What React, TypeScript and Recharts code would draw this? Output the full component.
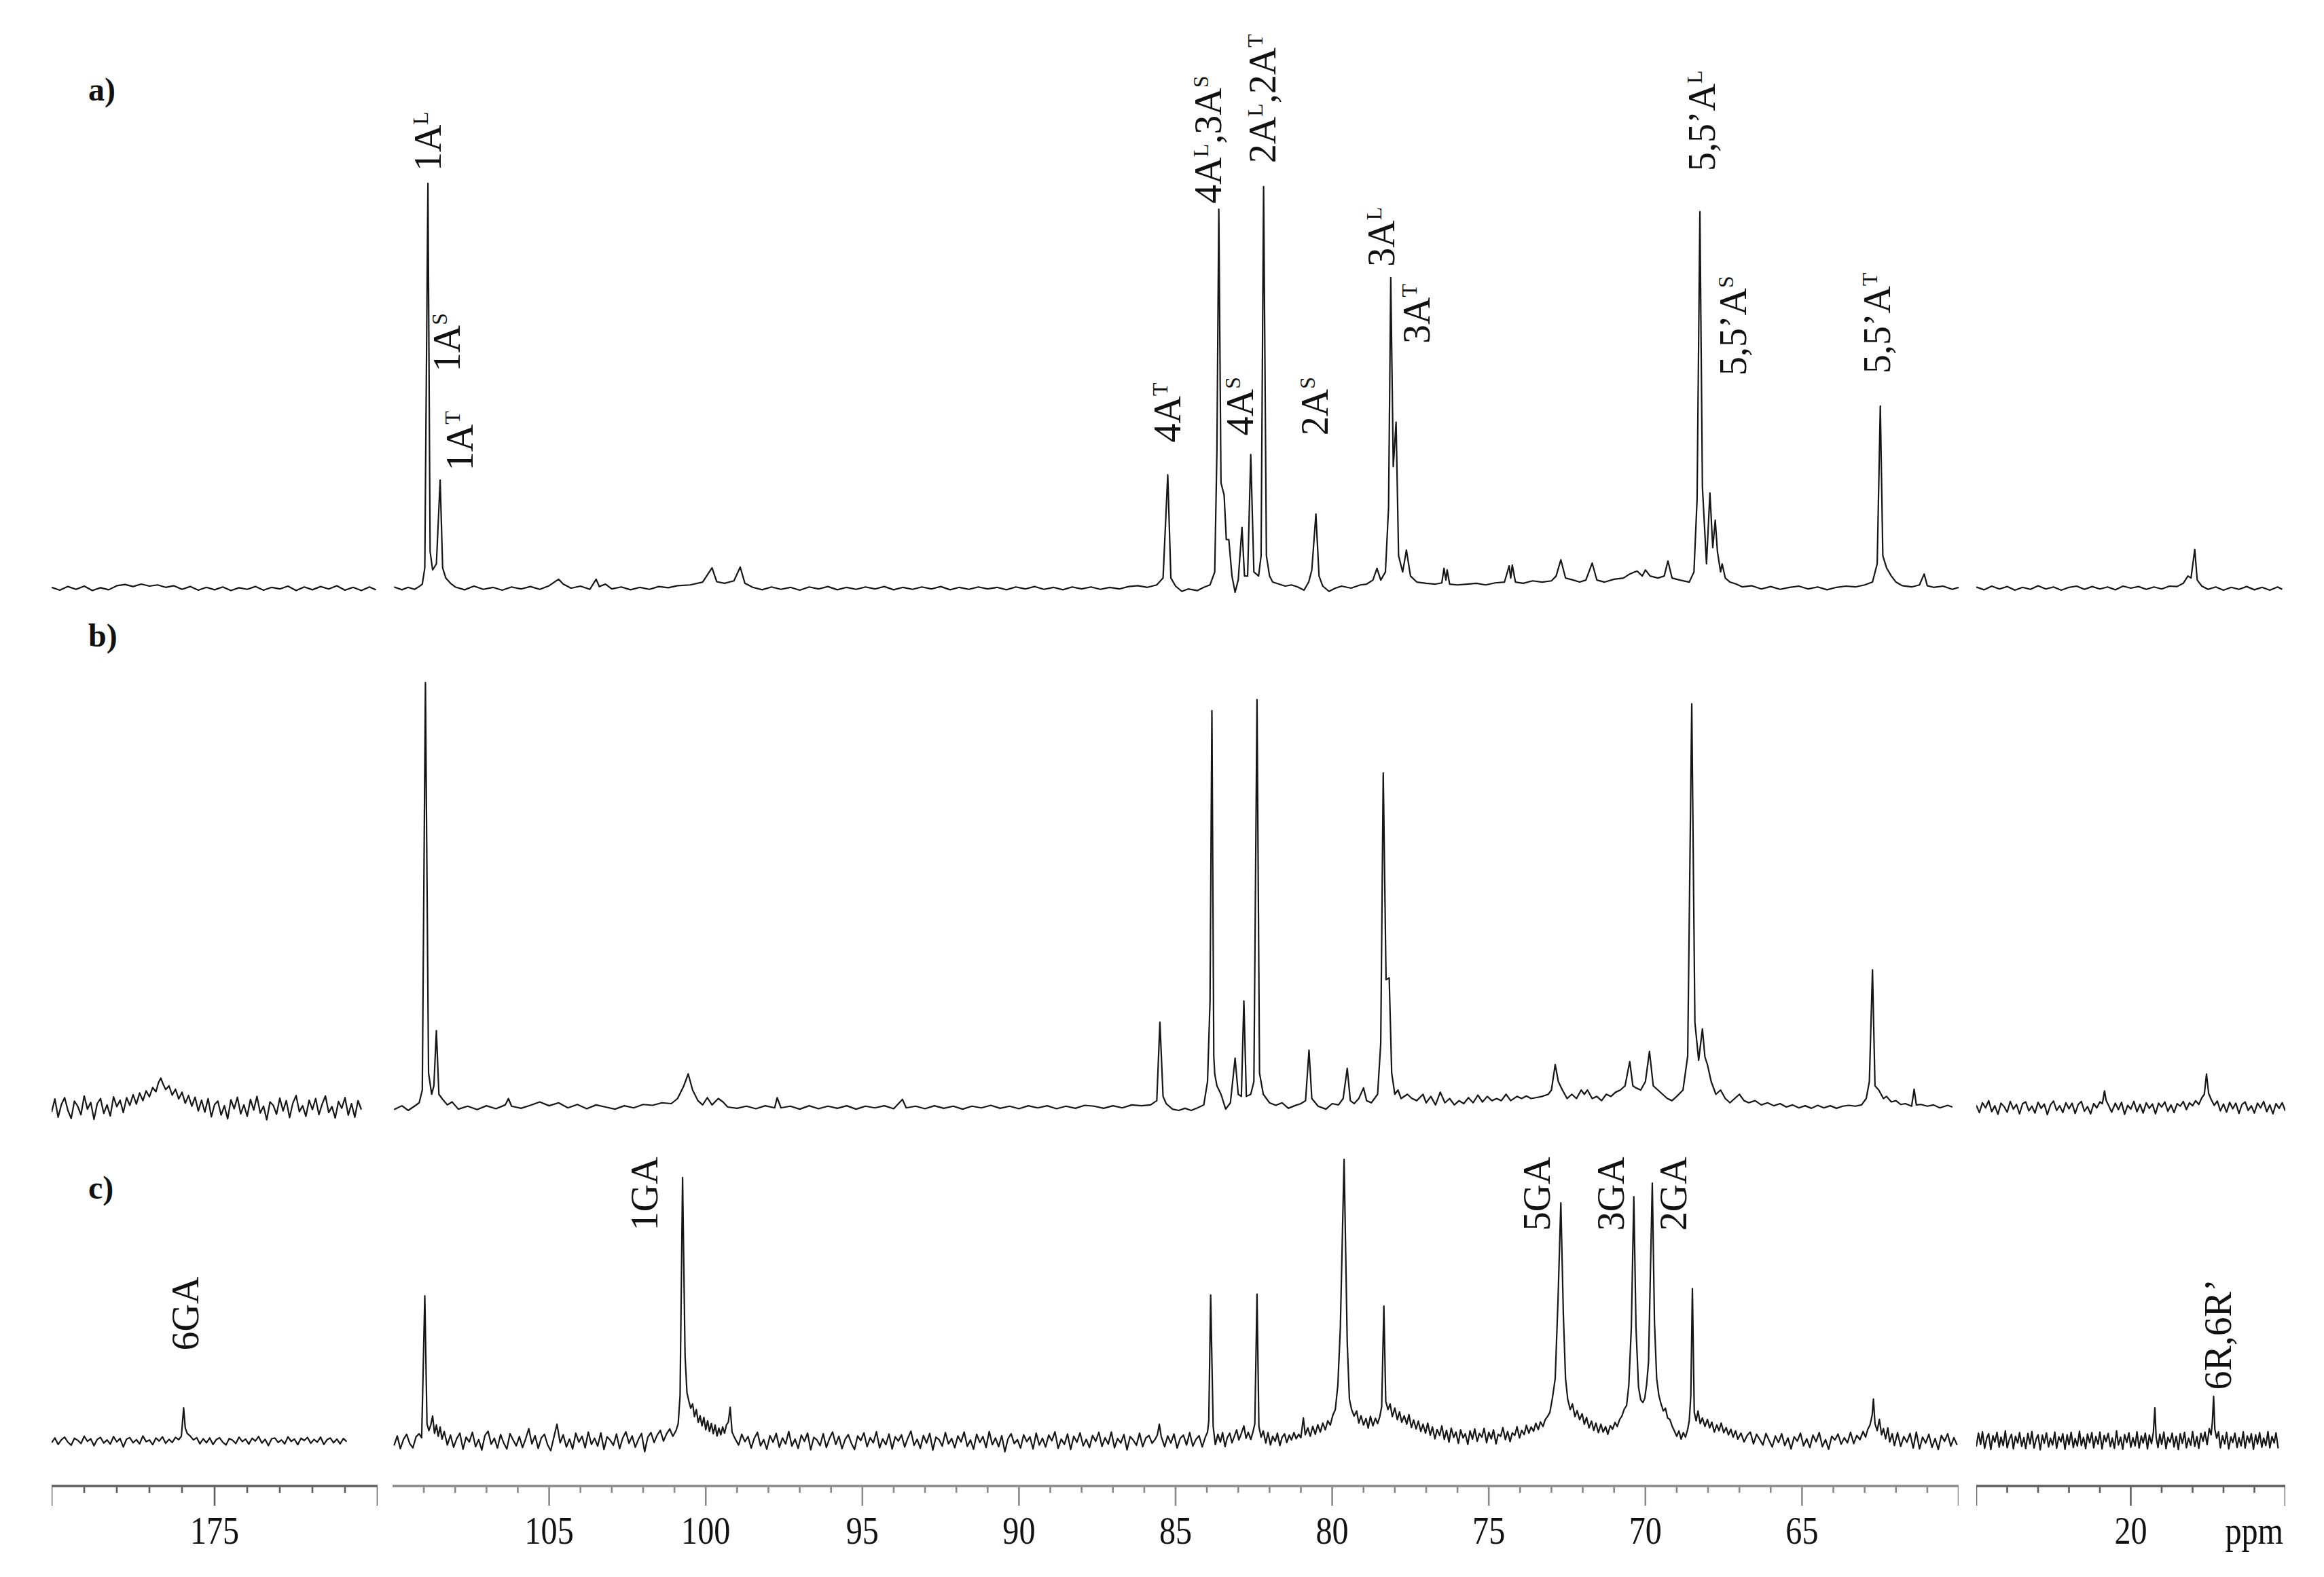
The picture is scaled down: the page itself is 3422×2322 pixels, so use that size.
import React from "react";
import { ComposedChart, Line, Scatter, XAxis, YAxis } from "recharts";

type Pt = [number, number];

// ---- spectra: [ppm, relative intensity], one list per trace and axis segment ----

const aLeft: Pt[] = [[180,0.2],[179.75,-0.5],[179.5,0.4],[179.25,-0.3],[179,0.5],[178.75,-0.6],[178.5,0.1],[178.25,-0.4],[178,0.6],[177.75,0.9],[177.5,0.4],[177.25,1.0],[177,0.5],[176.75,0.8],[176.5,0.2],[176.25,0.6],[176,-0.3],[175.75,0.4],[175.5,-0.5],[175.25,0.2],[175,-0.4],[174.75,0.3],[174.5,-0.6],[174.25,0.1],[174,-0.3],[173.75,0.4],[173.5,-0.5],[173.25,0.2],[173,-0.2],[172.75,0.5],[172.5,-0.6],[172.25,0.3],[172,-0.4],[171.75,0.4],[171.5,-0.2],[171.25,0.6],[171,-0.5],[170.75,0.2],[170.5,-0.6],[170.25,0.3],[170.05,-0.4]];

const aMid: Pt[] = [[109.95,0.3],[109.7,-0.4],[109.5,0.2],[109.3,-0.3],[109.15,0.4],[109.05,1],[108.97,5],[108.87,100],[108.8,9],[108.72,4.5],[108.6,6],[108.48,26.7],[108.4,5],[108.3,2.5],[108.15,1.2],[108.0,0.3],[107.7,-0.4],[107.4,0.5],[107.1,-0.3],[106.8,0.2],[106.5,-0.5],[106.2,0.3],[105.9,-0.2],[105.6,0.4],[105.3,-0.3],[105.0,0.6],[104.85,1.4],[104.7,2.2],[104.55,1.0],[104.3,0],[104.0,0.5],[103.7,-0.3],[103.5,2.2],[103.4,0.4],[103.2,1.0],[103.0,-0.2],[102.7,0.3],[102.4,-0.4],[102.1,0.2],[101.8,-0.3],[101.5,0.4],[101.2,0.1],[100.9,0.6],[100.5,0.8],[100.1,1.5],[99.8,5],[99.65,1.6],[99.4,1.2],[99.1,1.8],[98.9,5.2],[98.75,1.2],[98.5,0.2],[98.2,-0.4],[97.9,0.3],[97.6,-0.3],[97.3,0.2],[97.0,-0.5],[96.7,0.3],[96.4,-0.2],[96.1,0.4],[95.8,-0.4],[95.5,0.2],[95.2,-0.3],[94.9,0.3],[94.6,-0.2],[94.3,0.4],[94.0,-0.4],[93.7,0.2],[93.4,-0.3],[93.1,0.3],[92.8,-0.2],[92.5,0.4],[92.2,-0.4],[91.9,0.2],[91.6,-0.3],[91.3,0.3],[91.0,-0.2],[90.7,0.2],[90.4,-0.4],[90.1,0.3],[89.8,-0.2],[89.5,0.4],[89.2,-0.3],[88.9,0.2],[88.6,-0.4],[88.3,0.3],[88.0,-0.2],[87.7,0.3],[87.4,-0.3],[87.1,0.2],[86.8,-0.2],[86.5,0.4],[86.2,0.6],[85.9,0.2],[85.6,0.8],[85.4,2.5],[85.25,28],[85.15,2.5],[85.0,0.5],[84.8,-0.8],[84.6,-0.2],[84.3,-0.6],[84.1,0.2],[83.9,0.8],[83.75,4],[83.68,34],[83.62,93.6],[83.55,26],[83.45,23],[83.38,12],[83.3,12],[83.2,3],[83.1,-1],[83.0,2],[82.88,15],[82.8,3],[82.7,3],[82.6,33],[82.5,4],[82.35,3],[82.27,8],[82.19,99.2],[82.1,8],[82.0,3],[81.9,1.5],[81.7,1],[81.5,0.5],[81.3,0.8],[81.1,0.3],[80.9,-0.5],[80.75,1.5],[80.65,4.5],[80.52,18.3],[80.42,3],[80.3,0.5],[80.1,-0.8],[79.9,0],[79.7,0.5],[79.4,0],[79.1,0.8],[78.9,1],[78.7,2],[78.57,4.9],[78.45,2],[78.3,4],[78.2,20],[78.13,76.7],[78.05,30],[77.96,41],[77.88,8],[77.75,4],[77.63,9.4],[77.5,3],[77.3,1.5],[77.0,1.2],[76.7,1],[76.5,1.3],[76.43,4.9],[76.37,2],[76.33,4.5],[76.25,1],[76.0,0.8],[75.7,1],[75.4,1.2],[75.1,0.8],[74.8,1.3],[74.5,1.5],[74.35,5.5],[74.3,2.5],[74.25,5.7],[74.15,1.5],[73.9,1.2],[73.6,1.8],[73.3,1.5],[73.0,1.8],[72.85,3],[72.7,7],[72.55,2.5],[72.3,2],[72.1,1.5],[71.9,2],[71.7,6.2],[71.55,2],[71.3,1.5],[71.0,2.2],[70.7,2.5],[70.5,3.5],[70.35,4],[70.26,4.2],[70.1,3],[70.0,4.5],[69.85,3],[69.6,2.5],[69.4,3],[69.28,6.7],[69.15,2.5],[68.9,2],[68.6,1.5],[68.45,4],[68.35,22],[68.26,93],[68.18,25],[68.05,6],[67.94,23.5],[67.85,10],[67.77,16.8],[67.7,9],[67.6,4],[67.55,6],[67.45,2.5],[67.3,1.5],[67.1,1],[66.9,0.3],[66.6,0.6],[66.3,-0.2],[66.0,0.4],[65.7,-0.3],[65.4,0.2],[65.1,0.5],[64.8,-0.2],[64.5,0.3],[64.2,-0.4],[63.9,0.2],[63.6,0.5],[63.3,0.3],[63.0,0.8],[62.75,1.5],[62.6,6],[62.5,45],[62.42,8],[62.3,5],[62.15,3],[62.0,1.5],[61.8,0.6],[61.5,0.3],[61.25,0.8],[61.1,3.5],[61.0,0.6],[60.8,0.2],[60.5,0.5],[60.2,-0.3],[60.0,0.2]];

const aRight: Pt[] = [[25,0.3],[24.75,-0.4],[24.5,0.5],[24.25,-0.2],[24,0.4],[23.75,-0.5],[23.5,0.2],[23.25,-0.3],[23,0.6],[22.75,-0.2],[22.5,0.3],[22.25,-0.5],[22,0.2],[21.75,0.5],[21.5,-0.3],[21.25,0.4],[21,-0.2],[20.75,0.3],[20.5,-0.4],[20.25,0.5],[20,0],[19.75,0.4],[19.5,-0.3],[19.25,0.3],[19,-0.2],[18.75,0.5],[18.5,0.4],[18.3,1.2],[18.15,3],[18.05,2.5],[17.93,9.6],[17.85,2],[17.7,0.5],[17.5,-0.3],[17.25,0.3],[17,-0.5],[16.75,0.2],[16.5,-0.3],[16.25,0.4],[16,-0.4],[15.75,0.2],[15.5,-0.5],[15.25,0.3],[15.1,-0.3]];

const bLeft: Pt[] = [[180,-1.2],[179.9,1.9],[179.8,-2.4],[179.7,0.6],[179.6,2.2],[179.5,-0.8],[179.4,-2.7],[179.3,1.4],[179.2,0.2],[179.1,-1.8],[179.0,2.6],[178.9,-0.5],[178.8,1.1],[178.7,-2.9],[178.6,0.8],[178.5,2.0],[178.4,-1.5],[178.3,0.5],[178.2,-2.1],[178.1,2.4],[178.0,0.1],[177.9,1.6],[177.8,-1.3],[177.7,2.2],[177.6,0.4],[177.5,2.9],[177.4,0.7],[177.3,3.3],[177.2,1.5],[177.1,3.8],[177.0,2.4],[176.9,4.6],[176.8,3.6],[176.72,5.8],[176.65,6.8],[176.58,5.4],[176.5,4.1],[176.4,5.0],[176.3,2.8],[176.2,4.2],[176.1,1.9],[176.0,3.5],[175.9,0.9],[175.8,2.7],[175.7,0.2],[175.6,2.3],[175.5,-0.9],[175.4,1.6],[175.3,-1.2],[175.2,2.0],[175.1,-2.3],[175.0,0.6],[174.9,1.4],[174.8,-1.9],[174.7,0.3],[174.6,-2.8],[174.5,1.7],[174.4,-0.4],[174.3,2.3],[174.2,-1.6],[174.1,0.5],[174.0,-2.2],[173.9,1.8],[173.8,-0.7],[173.7,2.5],[173.6,-1.4],[173.5,0.2],[173.4,-3.0],[173.3,1.2],[173.2,0.4],[173.1,-1.7],[173.0,2.1],[172.9,-0.9],[172.8,1.5],[172.7,-2.5],[172.6,0.9],[172.5,2.7],[172.4,-1.1],[172.3,0.3],[172.2,-2.2],[172.1,1.6],[172.0,-0.6],[171.9,2.0],[171.8,-1.8],[171.7,0.7],[171.6,2.6],[171.5,-1.3],[171.4,0.1],[171.3,-2.6],[171.2,1.3],[171.1,-0.3],[171.0,2.2],[170.9,-1.9],[170.8,0.8],[170.7,-2.4],[170.6,1.5],[170.5,-0.6]];

const bMid: Pt[] = [[109.95,-0.6],[109.7,0.3],[109.5,-0.8],[109.3,0.2],[109.15,1],[109.05,4],[108.95,100],[108.85,8],[108.75,3],[108.68,5],[108.6,18],[108.52,3],[108.4,1.8],[108.25,0.5],[108.1,1.2],[107.9,-0.5],[107.6,0.2],[107.3,-0.6],[107,0.3],[106.7,-0.4],[106.4,0.5],[106.3,2],[106.2,0.2],[105.9,-0.3],[105.6,0.4],[105.3,1.2],[105.0,0.3],[104.7,1.0],[104.4,-0.2],[104.1,0.6],[103.8,-0.4],[103.5,0.5],[103.2,0],[102.9,-0.5],[102.6,0.3],[102.3,-0.2],[102,0.6],[101.7,0.4],[101.4,1.0],[101.1,0.8],[100.9,2],[100.7,5],[100.56,7.8],[100.42,4],[100.25,1.5],[100.1,0.5],[99.95,2.2],[99.8,0.5],[99.6,2],[99.45,1.2],[99.3,0],[99.0,-0.3],[98.7,0.2],[98.4,-0.4],[98.1,0.3],[97.8,-0.2],[97.72,2.2],[97.6,-0.2],[97.3,0.2],[97.0,-0.5],[96.7,0.3],[96.4,-0.4],[96.1,0.2],[95.8,-0.3],[95.5,0.3],[95.2,-0.5],[94.9,0.2],[94.6,-0.2],[94.3,0.3],[94.0,-0.4],[93.72,1.8],[93.6,-0.2],[93.3,0.2],[93.0,-0.4],[92.7,0.3],[92.4,-0.3],[92.1,0.2],[91.8,-0.5],[91.5,0.2],[91.2,-0.2],[90.9,0.4],[90.6,-0.3],[90.3,0.2],[90.0,-0.4],[89.7,0.3],[89.4,-0.2],[89.1,0.3],[88.8,-0.4],[88.5,0.2],[88.2,-0.3],[87.9,0.4],[87.6,0.2],[87.3,-0.3],[87.0,0.3],[86.7,-0.2],[86.4,0.5],[86.1,0.3],[85.8,0.5],[85.6,1.5],[85.5,20],[85.4,2.5],[85.3,0.8],[85.1,-0.5],[84.9,-0.8],[84.7,-0.3],[84.5,-0.8],[84.3,-0.2],[84.1,0.5],[83.98,6],[83.9,25],[83.84,93.4],[83.78,12],[83.75,7.8],[83.68,5],[83.55,3],[83.4,-0.5],[83.25,1],[83.1,11.5],[83.0,3],[82.9,2.5],[82.82,25],[82.74,2.5],[82.6,3],[82.5,6],[82.4,96],[82.32,8],[82.2,3],[82.0,1],[81.8,0.4],[81.6,1],[81.4,-0.3],[81.2,0.3],[81.0,0.8],[80.85,1.5],[80.74,13.4],[80.65,2],[80.45,0.2],[80.2,-0.5],[80.0,0.8],[79.8,0.5],[79.65,2],[79.52,9.1],[79.42,1.5],[79.3,0.8],[79.15,2],[79.0,4.5],[78.9,1.5],[78.75,1],[78.55,3],[78.45,15],[78.37,78.7],[78.28,30],[78.18,30.4],[78.1,8],[78.0,3],[77.9,4],[77.8,2],[77.6,3],[77.45,2],[77.3,1.5],[77.1,3],[77.0,1],[76.85,2.5],[76.7,0.5],[76.55,3.5],[76.4,1],[76.25,2],[76.1,0.5],[75.95,1.5],[75.8,0.8],[75.65,2.2],[75.5,1],[75.35,2.8],[75.2,1.2],[75.05,2.5],[74.9,1.5],[74.75,2],[74.6,1.5],[74.45,3],[74.3,1.5],[74.1,2.5],[73.95,2],[73.8,2.6],[73.65,2],[73.5,2.2],[73.3,2.5],[73.1,3],[73.0,4],[72.88,10],[72.78,6],[72.65,4],[72.5,2],[72.35,3],[72.2,2],[72.05,4],[71.95,3],[71.85,4],[71.7,2],[71.55,2.5],[71.4,1.5],[71.25,3],[71.1,2.5],[70.95,3.5],[70.8,4],[70.65,5],[70.5,10.7],[70.4,5],[70.3,4.5],[70.15,4],[70.0,6],[69.87,13.1],[69.75,5],[69.6,4],[69.45,3],[69.3,2],[69.15,1.5],[69.0,2.5],[68.8,4],[68.65,12],[68.52,95],[68.42,20],[68.3,11],[68.18,18.4],[68.1,11.8],[68.02,10],[67.9,6],[67.75,3],[67.6,4],[67.45,2],[67.3,1],[67.15,2],[67.0,3],[66.85,1.5],[66.7,1],[66.5,1.5],[66.3,0.5],[66.1,1],[65.9,0.3],[65.7,0.8],[65.5,0],[65.3,0.5],[65.1,-0.2],[64.9,0.3],[64.7,-0.3],[64.5,0.4],[64.3,-0.2],[64.1,0.3],[63.9,-0.3],[63.7,0.2],[63.5,0.4],[63.3,0.2],[63.1,0.5],[62.95,2],[62.85,6],[62.75,32.3],[62.67,5],[62.55,4],[62.4,2],[62.3,2.5],[62.15,1.2],[62.0,1.5],[61.85,0.6],[61.7,0.8],[61.5,0.2],[61.42,4.2],[61.35,0.5],[61.2,0.6],[61.0,0.2],[60.8,0.5],[60.6,-0.2],[60.35,0.4],[60.2,0]];

const bRight: Pt[] = [[25,0.4],[24.9,-1.3],[24.8,1.0],[24.7,-0.2],[24.6,1.5],[24.5,-1.1],[24.4,0.3],[24.3,-1.7],[24.2,0.9],[24.1,0.1],[24.0,-1.2],[23.9,1.3],[23.8,-0.5],[23.7,0.6],[23.6,-1.6],[23.5,0.8],[23.4,1.2],[23.3,-0.9],[23.2,0.2],[23.1,-1.4],[23.0,1.1],[22.9,-0.3],[22.8,0.7],[22.7,-1.8],[22.6,0.5],[22.5,1.4],[22.4,-0.8],[22.3,0.3],[22.2,-1.3],[22.1,1.0],[22.0,-0.4],[21.9,0.9],[21.8,-1.5],[21.7,0.6],[21.6,1.3],[21.5,-1.0],[21.4,0.1],[21.3,-1.6],[21.2,0.8],[21.1,-0.2],[21.0,1.2],[20.92,0.8],[20.85,3.8],[20.8,1.6],[20.72,0.4],[20.62,-1.2],[20.5,0.9],[20.4,-0.6],[20.3,1.1],[20.2,-1.7],[20.1,0.4],[20.0,-0.5],[19.9,1.3],[19.8,-1.1],[19.7,0.6],[19.6,-1.4],[19.5,1.0],[19.4,-0.3],[19.3,0.7],[19.2,-1.6],[19.1,0.9],[19.0,0.0],[18.9,1.2],[18.8,-1.0],[18.7,0.5],[18.6,-1.3],[18.5,0.8],[18.4,0.2],[18.3,1.3],[18.2,-0.6],[18.1,1.0],[18.0,0.3],[17.9,1.5],[17.8,0.6],[17.7,2.2],[17.62,3.0],[17.55,7.8],[17.48,3.2],[17.4,1.8],[17.3,0.4],[17.2,1.4],[17.1,-0.9],[17.0,0.7],[16.9,-1.2],[16.8,1.1],[16.7,-0.4],[16.6,0.9],[16.5,-1.5],[16.4,0.6],[16.3,1.2],[16.2,-0.8],[16.1,0.3],[16.0,-1.4],[15.9,0.9],[15.8,-0.2],[15.7,1.3],[15.6,-1.1],[15.5,0.5],[15.4,-1.6],[15.3,0.8],[15.2,-0.3],[15.1,1.0],[15.0,-0.9]];

const cLeft: Pt[] = [[180,-0.8],[179.9,0.9],[179.8,-1.4],[179.7,0.3],[179.6,1.2],[179.5,-0.6],[179.4,-1.7],[179.3,0.8],[179.2,0.1],[179.1,-1.1],[179.0,1.5],[178.9,-0.3],[178.8,0.6],[178.7,-1.9],[178.6,0.4],[178.5,1.1],[178.4,-0.9],[178.3,0.2],[178.2,-1.3],[178.1,1.4],[178.0,-0.5],[177.9,0.7],[177.8,-2.3],[177.7,0.5],[177.6,1.0],[177.5,-0.8],[177.4,0.3],[177.3,-1.2],[177.2,1.6],[177.1,-0.4],[177.0,0.2],[176.9,-1.5],[176.8,0.9],[176.7,-0.2],[176.6,1.3],[176.5,-1.0],[176.4,0.4],[176.3,-0.7],[176.2,1.1],[176.1,0.3],[176.02,1.5],[175.95,11.6],[175.9,4.5],[175.84,2.5],[175.75,1.6],[175.65,0.2],[175.55,1.0],[175.45,-1.2],[175.35,0.6],[175.25,-0.8],[175.15,0.9],[175.05,-1.4],[174.95,0.3],[174.85,1.0],[174.75,-0.6],[174.65,-1.6],[174.55,0.7],[174.45,0.1],[174.35,-1.1],[174.25,1.2],[174.15,-0.4],[174.05,0.5],[173.95,-1.3],[173.85,0.8],[173.75,-0.2],[173.65,1.4],[173.55,-0.9],[173.45,0.4],[173.35,-1.8],[173.25,0.6],[173.15,0.9],[173.05,-0.7],[172.95,0.2],[172.85,-1.2],[172.75,1.3],[172.65,-0.3],[172.55,0.5],[172.45,-1.5],[172.35,0.8],[172.25,0.0],[172.15,1.1],[172.05,-1.0],[171.95,0.4],[171.85,-0.6],[171.75,1.2],[171.65,-1.4],[171.55,0.3],[171.45,0.9],[171.35,-0.8],[171.25,0.5],[171.15,-1.2],[171.05,0.7],[170.95,-0.4]];

const cMid: Pt[] = [[109.95,-1.8],[109.85,1.6],[109.75,-2.9],[109.65,0.4],[109.55,2.2],[109.45,-1.1],[109.35,-2.6],[109.25,1.3],[109.15,2.4],[109.07,1.0],[108.97,51.4],[108.9,6],[108.84,3.5],[108.78,5.5],[108.72,8.7],[108.66,2.5],[108.6,5.5],[108.54,1.5],[108.48,4.8],[108.42,0.5],
[108.35,3.2],[108.25,-1.6],[108.15,1.9],[108.05,-2.4],[107.95,0.7],[107.85,2.6],[107.75,-3.1],[107.65,1.2],[107.55,-0.5],[107.45,2.9],[107.35,-2.2],[107.25,0.3],[107.15,-3.4],[107.05,1.8],[106.95,3.3],[106.85,-1.3],[106.75,0.8],[106.65,-2.7],[106.55,2.1],[106.45,-0.9],[106.35,-3.0],[106.25,2.4],[106.15,0.2],[106.05,-1.9],[105.95,1.4],[105.85,-2.5],[105.75,0.6],[105.65,4.2],[105.55,-1.2],[105.45,1.7],[105.35,-2.8],[105.25,0.9],[105.15,2.2],[105.05,-1.5],[104.95,-3.6],[104.85,1.1],[104.75,5.8],[104.65,-0.8],[104.55,2.0],[104.45,-2.3],[104.35,0.5],[104.25,-3.0],[104.15,2.6],[104.05,-0.6],[103.95,1.5],[103.85,-2.6],[103.75,3.0],[103.65,-1.4],[103.55,0.8],[103.45,-2.0],[103.35,2.7],[103.25,-3.2],[103.15,1.3],[103.05,0.1],[102.95,-1.7],[102.85,2.3],[102.75,-2.9],[102.65,0.9],[102.55,3.1],[102.45,-1.0],[102.35,1.6],[102.25,-2.4],[102.15,0.4],[102.05,2.5],[101.95,-4.0],[101.85,1.2],[101.75,2.8],[101.65,-0.7],[101.55,1.9],[101.45,3.6],[101.35,-0.2],[101.25,2.4],[101.15,4.1],[101.05,1.5],
[100.95,3.5],[100.88,6],[100.82,16],[100.74,93.5],[100.66,30],[100.6,17],[100.54,14],[100.48,11.5],[100.42,13],[100.36,8.5],[100.3,11],[100.24,6.5],[100.18,8.8],[100.12,5.2],[100.06,8.2],[100.0,3.8],[99.94,7],[99.88,3.2],[99.82,6.1],[99.76,2.4],[99.7,5.5],[99.64,1.6],[99.58,4.4],[99.52,2.0],[99.46,4.8],[99.4,2.6],[99.34,5.5],[99.28,6.5],[99.22,11.8],[99.16,3],[99.08,1],
[98.95,-1.6],[98.85,2.2],[98.75,-0.4],[98.65,1.4],[98.55,-2.7],[98.45,0.8],[98.35,2.9],[98.25,-1.9],[98.15,0.3],[98.05,-3.1],[97.95,1.7],[97.85,-0.6],[97.75,2.5],[97.65,-2.4],[97.55,0.9],[97.45,-1.2],[97.35,3.2],[97.25,-2.0],[97.15,0.5],[97.05,-2.8],[96.95,1.9],[96.85,-0.3],[96.75,2.6],[96.65,-3.3],[96.55,1.1],[96.45,0.2],[96.35,-1.8],[96.25,2.4],[96.15,-2.5],[96.05,0.7],[95.95,3.0],[95.85,-1.4],[95.75,1.5],[95.65,-2.9],[95.55,0.4],[95.45,2.1],[95.35,-1.0],[95.25,-3.2],[95.15,1.6],[95.05,0.0],[94.95,2.7],[94.85,-2.2],[94.75,1.0],[94.65,-0.8],[94.55,3.1],[94.45,-2.6],[94.35,0.6],[94.25,-1.5],[94.15,2.3],[94.05,-3.0],[93.95,1.3],[93.85,-0.2],[93.75,2.0],[93.65,-2.3],[93.55,0.8],[93.45,3.3],[93.35,-1.7],[93.25,0.4],[93.15,-2.8],[93.05,1.8],[92.95,-0.9],[92.85,2.5],[92.75,-3.4],[92.65,1.2],[92.55,0.3],[92.45,-2.0],[92.35,2.8],[92.25,-1.2],[92.15,0.7],[92.05,-2.6],[91.95,1.6],[91.85,-0.5],[91.75,3.0],[91.65,-2.1],[91.55,0.2],[91.45,-3.1],[91.35,2.2],[91.25,-0.7],[91.15,1.4],[91.05,-2.5],[90.95,3.2],[90.85,-1.5],[90.75,0.9],[90.65,-2.2],[90.55,1.7],[90.45,-4.0],[90.35,0.6],[90.25,2.4],[90.15,-1.1],[90.05,0.3],[89.95,-2.7],[89.85,2.0],[89.75,-0.4],[89.65,1.3],[89.55,-3.0],[89.45,2.6],[89.35,-1.6],[89.25,0.8],[89.15,-2.3],[89.05,1.9],[88.95,-0.1],[88.85,3.1],[88.75,-2.8],[88.65,0.5],[88.55,-1.4],[88.45,2.3],[88.35,-3.2],[88.25,1.5],[88.15,-0.6],[88.05,2.7],[87.95,-1.9],[87.85,0.4],[87.75,-2.5],[87.65,1.8],[87.55,-0.3],[87.45,2.9],[87.35,-2.1],[87.25,1.0],[87.15,-1.3],[87.05,3.0],[86.95,-2.6],[86.85,0.7],[86.75,-0.9],[86.65,2.1],[86.55,-3.3],[86.45,1.4],[86.35,0.1],[86.25,-1.7],[86.15,2.6],[86.05,-2.2],[85.95,0.9],[85.85,1.8],[85.75,-1.0],
[85.65,0.5],[85.58,2],[85.52,5.8],[85.46,1.5],[85.35,-2.2],[85.25,1.6],[85.15,-0.9],[85.05,2.3],[84.95,-2.7],[84.85,0.8],[84.75,1.9],[84.65,-1.6],[84.55,2.8],[84.45,-2.0],[84.35,0.4],[84.25,1.7],[84.15,-2.3],[84.05,1.2],[83.98,3],[83.94,7],[83.88,51.7],[83.8,5],
[83.73,-1.5],[83.65,2.2],[83.57,-0.6],[83.5,2.8],[83.42,-2.2],[83.35,1.0],[83.27,2.6],[83.2,-0.8],[83.12,1.6],[83.05,3.8],[82.98,0.2],[82.9,2.5],[82.82,5.2],[82.75,0.8],[82.68,2.9],[82.6,0.4],[82.53,3.0],[82.47,6],[82.4,52],[82.34,5],[82.27,1.2],[82.2,3.4],[82.12,-0.9],[82.05,2.8],[81.97,-1.6],[81.9,1.5],[81.82,-0.3],[81.75,2.6],[81.67,-1.8],[81.6,1.1],[81.52,2.4],[81.45,-0.7],[81.37,1.9],[81.3,0.2],[81.22,2.8],[81.15,0.6],[81.07,2.2],
[81.0,1],[80.92,8],[80.86,2],[80.78,4.5],[80.7,1.5],[80.62,5],[80.54,2.2],[80.46,5.6],[80.38,3.0],[80.3,6.2],[80.22,3.8],[80.14,7],[80.06,5.5],[79.98,9],[79.9,11],[79.82,19.6],[79.74,40],[79.62,100],[79.52,35],[79.45,14.7],[79.38,11],
[79.3,8.7],[79.22,10.5],[79.15,6.2],[79.08,8.8],[79.0,5.5],[78.92,7.8],[78.85,4.4],[78.78,8.6],[78.7,5.2],[78.62,7.9],[78.55,6.0],[78.48,8.5],[78.42,12],[78.35,47.8],[78.29,14],[78.22,11],[78.15,13],[78.08,8.5],[78.0,11.5],[77.92,7.4],[77.85,10.2],[77.78,6.5],[77.7,8.8],[77.62,5.8],[77.55,9.2],[77.47,4.6],[77.4,7.3],[77.32,4.1],[77.25,6.9],[77.17,3.2],[77.1,5.8],[77.02,2.6],[76.95,6.2],[76.87,1.9],[76.8,4.8],[76.72,0.6],[76.65,3.9],[76.57,1.8],[76.5,5.2],[76.42,0.4],[76.35,3.6],[76.27,-0.6],[76.2,4.4],[76.12,1.1],[76.05,3.0],[75.97,-1.0],[75.9,3.8],[75.82,0.9],[75.75,2.4],[75.67,-1.4],[75.6,3.4],[75.52,0.5],[75.45,4.1],[75.37,-0.3],[75.3,2.5],[75.22,1.2],[75.15,4.3],[75.07,-0.8],[75.0,2.9],[74.92,0.6],[74.85,3.8],[74.77,-1.2],[74.7,2.2],[74.62,1.5],[74.55,4.6],[74.47,0.3],[74.4,3.2],[74.32,-0.4],[74.25,2.7],[74.17,1.8],[74.1,4.9],[74.02,0.9],[73.95,3.6],[73.87,2.1],[73.8,5.4],[73.72,2.6],[73.65,4.8],[73.57,3.3],[73.5,6.1],[73.42,3.9],[73.35,6.6],[73.27,5.0],[73.2,7.4],[73.12,8.6],[73.05,10],[72.97,15],[72.88,22],[72.79,50],[72.7,84.5],
[72.62,45],[72.55,22],[72.48,14.7],[72.4,11],[72.33,13],[72.25,8.5],[72.18,10.6],[72.1,7.4],[72.02,9.5],[71.95,5.8],[71.88,8.2],[71.8,4.5],[71.72,6.9],[71.65,3.6],[71.58,6.2],[71.5,2.8],[71.42,5.8],[71.35,3.0],[71.27,4.9],[71.2,2.2],[71.12,5.3],[71.05,4.0],[70.97,6.4],[70.9,5.0],[70.82,7.5],[70.75,8.7],[70.68,11],[70.6,12.5],[70.53,19.6],[70.45,40],[70.37,86.7],[70.3,40],[70.22,19],[70.15,14.5],[70.08,13.5],[70.02,15],[69.96,20],[69.9,28],[69.84,60],[69.78,91.5],[69.71,42],[69.64,22],[69.57,16],[69.5,13],[69.43,10.5],[69.36,11.5],[69.29,8],[69.22,7.5],[69.15,5.2],[69.08,3.5],[69.0,1.5],[68.93,3.4],[68.86,0.5],[68.79,2.8],[68.72,1.2],[68.65,4.0],[68.6,7],[68.55,16],[68.5,54],[68.44,10],
[68.38,7],[68.32,10.5],[68.25,6],[68.18,8],[68.1,5],[68.02,7.5],[67.95,4.5],[67.88,6.5],[67.8,3],[67.72,5.5],[67.65,3.5],[67.58,6.2],[67.5,2.8],[67.42,4.6],[67.35,2.0],[67.27,4.0],[67.2,1.2],[67.12,3.4],[67.05,0.5],[66.95,2.6],[66.85,-0.5],[66.75,1.8],[66.65,3.0],[66.55,-1.2],[66.45,2.2],[66.35,0.4],[66.25,-1.6],[66.15,2.5],[66.05,0.0],[65.95,-2.3],[65.85,1.6],[65.75,-0.7],[65.65,2.4],[65.55,-1.8],[65.45,0.9],[65.35,-3.0],[65.25,1.3],[65.15,-0.2],[65.05,2.6],[64.95,-1.9],[64.85,0.6],[64.75,-2.5],[64.65,1.9],[64.55,-0.4],[64.45,2.8],[64.35,-2.2],[64.25,0.3],[64.15,-3.1],[64.05,1.5],[63.95,0.2],[63.85,2.3],[63.75,-1.3],[63.65,1.0],[63.55,-0.8],[63.45,2.9],[63.35,-1.1],[63.25,1.8],[63.15,0.3],[63.05,3.2],[62.97,1.2],[62.9,4.0],[62.83,5.5],[62.76,9],[62.72,14.7],[62.67,6],[62.6,3.5],[62.53,7.5],[62.46,2.0],[62.4,4.2],[62.33,0.6],[62.26,4.5],[62.2,-0.5],[62.12,2.4],[62.05,-1.8],[61.95,2.8],[61.85,-2.1],[61.75,1.4],[61.65,-0.6],[61.55,2.5],[61.45,-2.7],[61.35,3.0],[61.25,-3.0],[61.15,1.2],[61.05,-0.9],[60.95,2.2],[60.85,-2.4],[60.75,0.7],[60.65,-3.2],[60.55,1.8],[60.45,-0.3],[60.35,2.4],[60.25,-2.0],[60.15,1.0],[60.05,-1.6]];

const cRight: Pt[] = [[25,-2.2],[24.93,2.6],[24.86,-1.4],[24.8,3.1],[24.73,-2.8],[24.66,0.9],[24.6,2.4],[24.53,-3.2],[24.46,1.7],[24.4,-0.6],[24.33,2.9],[24.26,-2.4],[24.2,1.2],[24.13,-1.8],[24.06,3.4],[24.0,-2.6],[23.93,0.4],[23.86,2.2],[23.8,-3.0],[23.73,1.5],[23.66,-0.9],[23.6,2.8],[23.53,-2.1],[23.46,1.0],[23.4,-2.9],[23.33,2.5],[23.26,-1.2],[23.2,3.2],[23.13,-2.7],[23.06,0.6],[23.0,2.0],[22.93,-3.3],[22.86,1.9],[22.8,-1.0],[22.73,2.7],[22.66,-2.3],[22.6,0.8],[22.53,-1.6],[22.46,3.0],[22.4,-2.8],[22.33,1.3],[22.26,-0.5],[22.2,2.4],[22.13,-3.1],[22.06,2.0],[22.0,-1.5],[21.93,2.9],[21.86,-2.5],[21.8,0.7],[21.73,-2.0],[21.66,3.3],[21.6,-1.8],[21.53,1.1],[21.46,-2.9],[21.4,2.3],[21.33,-0.8],[21.26,2.8],[21.2,-2.6],[21.13,1.4],[21.06,-1.3],[21.0,3.0],[20.93,-3.0],[20.86,1.8],[20.8,-0.4],[20.73,2.5],[20.66,-2.2],[20.6,0.9],[20.53,-2.8],[20.46,3.4],[20.4,-1.6],[20.33,1.2],[20.26,-3.1],[20.2,2.1],[20.13,-0.7],[20.06,2.7],[20.0,-2.4],[19.93,1.0],[19.86,-1.9],[19.8,3.1],[19.73,-2.7],[19.66,1.6],[19.6,-0.9],[19.53,2.6],[19.46,-3.0],[19.4,1.9],[19.33,-1.1],[19.27,2.8],[19.22,11.6],[19.18,1.2],[19.12,-2.5],[19.06,2.2],[19.0,-1.4],[18.93,3.0],[18.86,-2.9],[18.8,1.1],[18.73,-0.6],[18.66,2.6],[18.6,-2.3],[18.53,1.5],[18.46,-3.2],[18.4,2.4],[18.33,-1.0],[18.26,2.9],[18.2,-2.6],[18.13,0.8],[18.06,-1.7],[18.0,3.2],[17.93,-2.1],[17.86,1.4],[17.8,-2.8],[17.73,2.5],[17.66,-0.3],[17.6,3.0],[17.53,-1.5],[17.46,4.2],[17.4,2.0],[17.36,6.5],[17.32,15.7],[17.28,4.0],[17.22,0.8],[17.16,3.1],[17.1,-2.6],[17.03,1.7],[16.96,-1.2],[16.9,2.9],[16.83,-3.0],[16.76,1.3],[16.7,-0.7],[16.63,2.6],[16.56,-2.5],[16.5,1.0],[16.43,-1.9],[16.36,3.1],[16.3,-2.7],[16.23,1.6],[16.16,-0.8],[16.1,2.4],[16.03,-3.1],[15.96,2.0],[15.9,-1.3],[15.83,2.8],[15.76,-2.4],[15.7,0.9],[15.63,-1.8],[15.56,3.2],[15.5,-2.6],[15.43,1.4],[15.36,-0.9],[15.3,2.7],[15.23,-2.8]];

// ---- peak assignments: ppm, intensity where the label starts, text (^x = superscript) ----

const labelsAMid = [
  { ppm: 108.87, v: 103, text: "1A^L" },
  { ppm: 108.27, v: 53.5, text: "1A^S" },
  { ppm: 107.85, v: 29, text: "1A^T" },
  { ppm: 85.27, v: 36, text: "4A^T" },
  { ppm: 83.95, v: 95, text: "4A^L,3A^S" },
  { ppm: 82.93, v: 37.7, text: "4A^S" },
  { ppm: 82.23, v: 105, text: "2A^L,2A^T" },
  { ppm: 80.56, v: 37.7, text: "2A^S" },
  { ppm: 78.42, v: 79.4, text: "3A^L" },
  { ppm: 77.31, v: 60.4, text: "3A^T" },
  { ppm: 68.2, v: 103, text: "5,5’A^L" },
  { ppm: 67.2, v: 52.5, text: "5,5’A^S" },
  { ppm: 62.6, v: 53, text: "5,5’A^T" },
];
const labelsCLeft = [{ ppm: 175.9, v: 32, text: "6GA" }];
const labelsCMid = [
  { ppm: 101.95, v: 74.6, text: "1GA" },
  { ppm: 73.47, v: 74.6, text: "5GA" },
  { ppm: 71.1, v: 74.6, text: "3GA" },
  { ppm: 69.1, v: 74.6, text: "2GA" },
];
const labelsCRight = [{ ppm: 17.18, v: 18, text: "6R,6R’" }];

// ---- axis ticks ----
const leftTicks = [170, 171, 172, 173, 174, 175, 176, 177, 178, 179, 180];
const midTicks = [60, 61, 62, 63, 64, 65, 66, 67, 68, 69, 70, 71, 72, 73, 74, 75, 76, 77, 78, 79, 80, 81, 82, 83, 84, 85, 86, 87, 88, 89, 90, 91, 92, 93, 94, 95, 96, 97, 98, 99, 100, 101, 102, 103, 104, 105, 106, 107, 108, 109];
const rightTicks = [15, 16, 17, 18, 19, 20, 21, 22, 23, 24, 25];
const leftTickLabels = [175];
const midTickLabels = [105, 100, 95, 90, 85, 80, 75, 70, 65];
const rightTickLabels = [20];
const panelNames = ["a)", "b)", "c)"];

// ---- layout ----
const W = 3422;
const H = 2322;
const AXIS_Y = 2188;
const SERIF = "'Liberation Serif', 'Times New Roman', serif";

// baseline (px from top) and px per intensity unit for each trace
const panels = [
  { id: "a", base: 866, k: 5.96, nameTop: 108 },
  { id: "b", base: 1630, k: 6.25, nameTop: 912 },
  { id: "c", base: 2121, k: 4.14, nameTop: 1725 },
];

const toRows = (pts: Pt[]) => pts.map(([ppm, v]) => ({ ppm, v }));

const segments = [
  {
    key: "left", left: 76, width: 480, domain: [170, 180], ticks: leftTicks, tickLabels: leftTickLabels,
    axisColor: "#5e5e5e", traces: { a: aLeft, b: bLeft, c: cLeft }, labels: { c: labelsCLeft },
  },
  {
    key: "mid", left: 578, width: 2306, domain: [60, 110], ticks: midTicks, tickLabels: midTickLabels,
    axisColor: "#8a8a8a", traces: { a: aMid, b: bMid, c: cMid }, labels: { a: labelsAMid, c: labelsCMid },
  },
  {
    key: "right", left: 2910, width: 455, domain: [15, 25], ticks: rightTicks, tickLabels: rightTickLabels,
    axisColor: "#5e5e5e", traces: { a: aRight, b: bRight, c: cRight }, labels: { c: labelsCRight },
  },
];

const PpmTick = (props: any) => {
  const { x, y, payload, labelled, color } = props;
  const val = payload.value as number;
  const major = val % 5 === 0;
  return (
    <g>
      <line x1={x} x2={x} y1={y} y2={y + (major ? 29 : 10)} stroke={color} strokeWidth={2.6} />
      {labelled.includes(val) && (
        <text
          transform={`translate(${x},${y + 85}) scale(0.86,1)`}
          textAnchor="middle"
          fontFamily={SERIF}
          fontSize={56}
          fill="#111"
        >
          {val}
        </text>
      )}
    </g>
  );
};

const PeakLabel = (props: any) => {
  const { cx, cy, payload } = props;
  if (cx == null || cy == null) return null;
  const parts = String(payload.text)
    .split(/(\^\S)/)
    .filter((p: string) => p.length > 0)
    .map((p: string) => (p.startsWith("^") ? { t: p.slice(1), sup: true } : { t: p, sup: false }));
  let raised = false;
  return (
    <text
      transform={`translate(${cx},${cy}) rotate(-90)`}
      x={0}
      y={19}
      fontFamily={SERIF}
      fontSize={56}
      fill="#111"
    >
      {parts.map((p: any, i: number) => {
        let dy = 0;
        if (p.sup && !raised) {
          dy = -19;
          raised = true;
        } else if (!p.sup && raised) {
          dy = 19;
          raised = false;
        }
        return (
          <tspan key={i} dy={dy || undefined} fontSize={p.sup ? 32 : 56}>
            {p.t}
          </tspan>
        );
      })}
    </text>
  );
};

const Segment = ({ seg }: { seg: any }) => (
  <div style={{ position: "absolute", left: seg.left, top: 0 }}>
    <ComposedChart width={seg.width} height={H} margin={{ top: 0, right: 0, bottom: 0, left: 0 }}>
      <XAxis
        xAxisId="x"
        type="number"
        dataKey="ppm"
        domain={seg.domain}
        reversed
        allowDataOverflow
        ticks={seg.ticks}
        interval={0}
        height={H - AXIS_Y}
        tickSize={0}
        tickMargin={0}
        tickLine={false}
        axisLine={{ stroke: seg.axisColor, strokeWidth: 3.5 }}
        tick={(p: any) => <PpmTick {...p} labelled={seg.tickLabels} color={seg.axisColor} />}
      />
      {panels.map((p) => (
        <YAxis
          key={p.id}
          yAxisId={p.id}
          hide
          type="number"
          dataKey="v"
          allowDataOverflow
          domain={[(p.base - AXIS_Y) / p.k, p.base / p.k]}
        />
      ))}
      {panels.map((p) => (
        <Line
          key={p.id}
          xAxisId="x"
          yAxisId={p.id}
          data={toRows(seg.traces[p.id])}
          dataKey="v"
          type="linear"
          stroke="#161616"
          strokeWidth={2.2}
          strokeLinejoin="round"
          dot={false}
          activeDot={false}
          isAnimationActive={false}
        />
      ))}
      {panels
        .filter((p) => seg.labels[p.id])
        .map((p) => (
          <Scatter
            key={"l" + p.id}
            xAxisId="x"
            yAxisId={p.id}
            data={seg.labels[p.id]}
            dataKey="v"
            shape={(sp: any) => <PeakLabel {...sp} />}
            isAnimationActive={false}
          />
        ))}
    </ComposedChart>
  </div>
);

export default function App() {
  return (
    <div style={{ position: "absolute", left: 0, top: 0, width: W, height: H, background: "#fff", overflow: "hidden" }}>
      {segments.map((s) => (
        <Segment key={s.key} seg={s} />
      ))}
      {panels.map((p, i) => (
        <div
          key={p.id}
          style={{
            position: "absolute",
            left: 130,
            top: p.nameTop,
            fontFamily: SERIF,
            fontWeight: "bold",
            fontSize: 48,
            lineHeight: "48px",
            color: "#111",
          }}
        >
          {panelNames[i]}
        </div>
      ))}
      <div
        style={{
          position: "absolute",
          left: 3150,
          width: 212,
          top: AXIS_Y + 38,
          textAlign: "right",
          fontFamily: SERIF,
          fontSize: 56,
          lineHeight: "56px",
          color: "#111",
          transform: "scaleX(0.86)",
          transformOrigin: "right center",
        }}
      >
        ppm
      </div>
    </div>
  );
}
